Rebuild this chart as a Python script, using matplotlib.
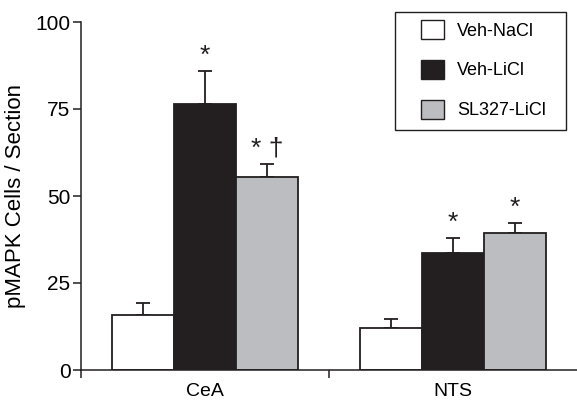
import matplotlib

matplotlib.use("Agg")
import matplotlib.pyplot as plt  # noqa: E402
import numpy as np  # noqa: E402
from matplotlib.patches import Patch, Rectangle  # noqa: E402

plt.rcParams["font.family"] = ["Liberation Sans", "DejaVu Sans"]

regions = ["CeA", "NTS"]
groups = ["Veh-NaCl", "Veh-LiCl", "SL327-LiCl"]
means = {
    "Veh-NaCl": [15.8, 12.0],
    "Veh-LiCl": [76.3, 33.7],
    "SL327-LiCl": [55.4, 39.4],
}
sems = {
    "Veh-NaCl": [3.5, 2.7],
    "Veh-LiCl": [9.6, 4.2],
    "SL327-LiCl": [3.7, 2.7],
}
marks = {
    "Veh-NaCl": ["", ""],
    "Veh-LiCl": ["*", "*"],
    "SL327-LiCl": ["* \u2020", "*"],
}
colors = ["#ffffff", "#231f20", "#bcbdc0"]
ink = "#231f20"

W, H = 577, 407
fig = plt.figure(figsize=(W / 100, H / 100), dpi=100)
ax = fig.add_axes([81 / W, 1 - 370 / H, 496 / W, 348 / H])

centers = np.array([0.0, 4.0])
width = 1.0
for i, (g, c) in enumerate(zip(groups, colors)):
    x = centers + (i - 1) * width
    ax.bar(x, means[g], width=width, color=c, edgecolor=ink,
           linewidth=1.3, zorder=2)
    ax.errorbar(x, means[g], yerr=[np.zeros(2), sems[g]], fmt="none",
                ecolor=ink, elinewidth=1.3, capsize=5, capthick=1.3,
                zorder=1)
    for xi, m, s, t in zip(x, means[g], sems[g], marks[g]):
        if t:
            ax.text(xi, m + s + 1.0, t, ha="center", va="bottom",
                    fontsize=19, color=ink)

ax.set_xlim(-2, 6)
ax.set_ylim(0, 100)
ax.set_yticks([0, 25, 50, 75, 100])
ax.tick_params(axis="y", labelsize=15, length=6, width=1.1, color=ink,
               pad=1.5)
ax.set_xticks(centers)
ax.set_xticklabels(regions)
ax.tick_params(axis="x", labelsize=14, length=0, pad=9)
ax.set_xticks([-2, 2], minor=True)
ax.tick_params(axis="x", which="minor", length=6, width=1.1, color=ink)
ax.set_ylabel("pMAPK Cells / Section", fontsize=16, labelpad=7)

for side in ("top", "right"):
    ax.spines[side].set_visible(False)
for side in ("left", "bottom"):
    ax.spines[side].set_linewidth(1.1)
    ax.spines[side].set_color(ink)

# legend frame drawn separately to get the wide side padding
fig.patches.append(Rectangle((395 / W, 1 - 130 / H), 171 / W, 118 / H,
                             transform=fig.transFigure, facecolor="white",
                             edgecolor=ink, linewidth=1.0, zorder=5))
handles = [Patch(facecolor=c, edgecolor=ink, linewidth=1.0, label=g)
           for g, c in zip(groups, colors)]
leg = fig.legend(handles=handles, loc="upper left",
                 bbox_to_anchor=(421 / W, 1 - 20 / H),
                 fontsize=13, frameon=False,
                 handlelength=1.25, handleheight=1.25, handletextpad=0.75,
                 labelspacing=1.12, borderpad=0, borderaxespad=0)
leg.set_zorder(6)

fig.savefig("out.png", dpi=100)
